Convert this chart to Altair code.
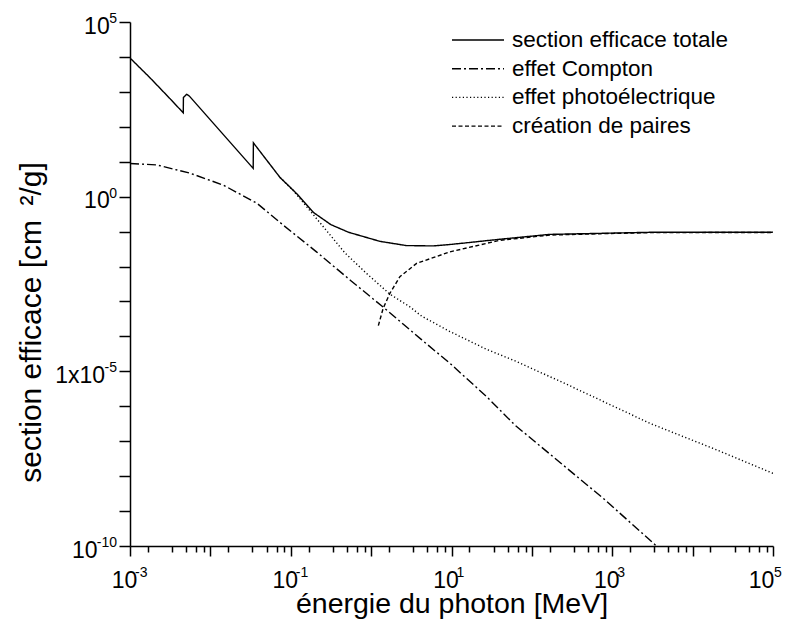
import math
import altair as alt
import pandas as pd

series_names = ["section efficace totale", "effet Compton", "effet photoélectrique", "création de paires"]

energy_total = [1.0e-3, 1.78e-3, 3.16e-3, 4.60e-3, 4.62e-3, 5.07e-3, 5.47e-3, 3.41e-2, 3.43e-2,
                7.35e-2, 0.117, 0.191, 0.316, 0.525, 1.29, 2.75, 5.89, 9.55, 15.5, 39.8, 166, 708, 2950, 1.0e5]
sigma_total = [9.33e3, 2.51e3, 6.31e2, 2.51e2, 6.92e2, 8.51e2, 7.59e2, 6.46, 34.7,
               3.55, 1.26, 0.355, 0.158, 0.0955, 0.0525, 0.0398, 0.0389, 0.0427, 0.0479, 0.0603, 0.0832, 0.0891, 0.0955, 0.0955]

energy_compton = [1.0e-3, 2.14e-3, 5.62e-3, 1.45e-2, 3.80e-2, 8.13e-2, 0.209, 0.550, 1.48, 4.27, 9.55, 27.5, 61.7, 776, 3550]
sigma_compton = [8.91, 8.13, 4.68, 2.14, 0.646, 0.151, 0.0263, 4.07e-3, 6.31e-4, 7.94e-5, 1.70e-5, 1.86e-6, 2.88e-7, 2.29e-9, 1.0e-10]

energy_photo = [7.35e-2, 0.107, 0.254, 0.468, 0.879, 1.71, 3.02, 4.25, 9.55, 27.3, 64.6, 282, 2950, 2.0e4, 1.0e5]
sigma_photo = [3.55, 1.51, 0.138, 0.0251, 6.31e-3, 1.62e-3, 7.08e-4, 3.80e-4, 1.38e-4, 4.27e-5, 1.91e-5, 4.07e-6, 3.24e-7, 5.62e-8, 1.20e-8]

energy_pair = [1.23, 1.41, 1.71, 2.28, 3.68, 9.55, 39.8, 166, 708, 2950, 1.0e5]
sigma_pair = [2.04e-4, 6.31e-4, 1.70e-3, 5.13e-3, 0.0123, 0.0263, 0.0562, 0.0794, 0.0871, 0.0933, 0.0944]

# tick labels: base text on the axis, exponent drawn as a raised smaller text
x_label_values = [1e-3, 1e-1, 1e1, 1e3, 1e5]
x_label_exponents = ["-3", "-1", "1", "3", "5"]
y_label_values = [1e5, 1.0, 1e-5, 1e-10]
y_label_bases = ["10", "10", "1x10", "10"]
y_label_exponents = ["5", "0", "-5", "-10"]

# x ticks: decades plus 5 evenly spaced minor ticks per decade (Origin style)
x_decades = [-3, -2, -1, 0, 1, 2, 3, 4]
x_minor_steps = [1, 2, 3, 4, 5]

rows = []
for name, es, ss in zip(series_names,
                        [energy_total, energy_compton, energy_photo, energy_pair],
                        [sigma_total, sigma_compton, sigma_photo, sigma_pair]):
    for i, (e, s) in enumerate(zip(es, ss)):
        rows.append({"serie": name, "E": e, "sigma": s, "ordre": i})
df = pd.DataFrame(rows)

x_ticks = [10.0 ** k for k in x_decades] + [1.0e5]
x_ticks += [m * 10.0 ** (k + 1) / 6.0 for k in x_decades for m in x_minor_steps]
x_ticks = sorted(x_ticks)
y_ticks = [10.0 ** k for k in range(-10, 6)]


def dec(v):
    return f"abs(log(datum.value)/LN10 - ({v})) < 0.001"


x_label_expr = " : ".join(f"{dec(round(math.log10(v)))} ? '10'" for v in x_label_values) + " : ''"
y_label_expr = " : ".join(f"{dec(round(math.log10(v)))} ? '{b}'"
                          for v, b in zip(y_label_values, y_label_bases)) + " : ''"
is_decade = "abs(log(datum.value)/LN10 - round(log(datum.value)/LN10)) < 0.001"

legend_spec = alt.Legend(
    title=None, orient="none", legendX=321, legendY=4,
    symbolType="stroke", symbolSize=2704, symbolStrokeColor="black",
    labelFont="Liberation Sans", labelFontSize=22.5, labelColor="black",
    labelOffset=7, labelLimit=400, clipHeight=28, rowPadding=0.7, padding=0,
)

x_enc = alt.X("E:Q",
              scale=alt.Scale(type="log", domain=[1e-3, 1e5], nice=False),
              axis=alt.Axis(values=x_ticks, labelExpr=x_label_expr,
                            tickSize={"condition": {"test": is_decade, "value": 10}, "value": 6},
                            title="énergie du photon [MeV]", titleY=66, titleBaseline="alphabetic",
                            titleFontSize=28.5,
                            labelPadding=31, labelBaseline="alphabetic",
                            labelOffset={"condition": {"test": dec(5), "value": -12}, "value": -6},
                            labelFlush=False))
y_enc = alt.Y("sigma:Q",
              scale=alt.Scale(type="log", domain=[1e-10, 1e5], nice=False),
              axis=alt.Axis(values=y_ticks, labelExpr=y_label_expr, tickSize=11,
                            title="section efficace [cm\u00a0\u2009²/g]", titleX=-84, titleY=300,
                            titleFontSize=30,
                            labelBaseline="alphabetic", labelOffset=11,
                            labelPadding={"condition": [
                                {"test": dec(-10), "value": 22},
                                {"test": dec(-5), "value": 14.5}], "value": 9.8},
                            labelFlush=False))

lines = alt.Chart(df).mark_line(clip=True, color="black").encode(
    x=x_enc,
    y=y_enc,
    order="ordre:Q",
    strokeDash=alt.StrokeDash("serie:N",
                              scale=alt.Scale(domain=series_names,
                                              range=[[1, 0], [9, 3, 2, 3], [1.2, 2.4], [4, 2.5]]),
                              legend=legend_spec),
    strokeWidth=alt.StrokeWidth("serie:N",
                                scale=alt.Scale(domain=series_names, range=[1.4, 1.4, 1.2, 1.8]),
                                legend=legend_spec),
)

x_exp_df = pd.DataFrame({"E": x_label_values, "exp": x_label_exponents})
y_exp_df = pd.DataFrame({"sigma": y_label_values, "exp": y_label_exponents})

x_exp = alt.Chart(x_exp_df).transform_filter("datum.E < 1e4").mark_text(
    align="left", baseline="alphabetic", dx=5, dy=31, fontSize=14, font="Liberation Sans", color="black"
).encode(x=alt.X("E:Q"), y=alt.YDatum(1e-10), text="exp:N")

x_exp_last = alt.Chart(x_exp_df).transform_filter("datum.E >= 1e4").mark_text(
    align="left", baseline="alphabetic", dx=1, dy=31, fontSize=14, font="Liberation Sans", color="black"
).encode(x=alt.X("E:Q"), y=alt.YDatum(1e-10), text="exp:N")

y_exp = alt.Chart(y_exp_df).mark_text(
    align="right", baseline="alphabetic", dx=-13, dy=1, fontSize=14, font="Liberation Sans", color="black"
).encode(x=alt.XDatum(1e-3), y=alt.Y("sigma:Q"), text="exp:N")

chart = alt.layer(lines, x_exp, x_exp_last, y_exp).properties(
    width=643, height=524,
    autosize=alt.AutoSizeParams(type="none"),
    padding={"left": 122, "top": 14, "right": 9, "bottom": 80},
).configure_view(stroke=None).configure_axis(
    grid=False, domainColor="black", domainWidth=1.5, tickColor="black", tickWidth=1.5,
    labelFont="Liberation Sans", labelFontSize=23, labelColor="black",
    titleFont="Liberation Sans", titleFontSize=28, titleFontWeight="normal", titleColor="black",
)

chart.save("out.html", embed_options={"renderer": "svg", "actions": False})
